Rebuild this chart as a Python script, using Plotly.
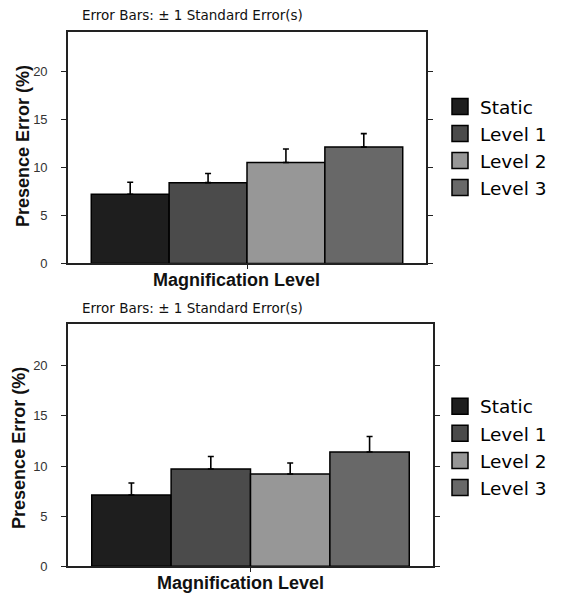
import plotly.graph_objects as go

categories = ["Magnification Level"]
series = ["Static", "Level 1", "Level 2", "Level 3"]
colors = ["#1e1e1e", "#4b4b4b", "#979797", "#686868"]

top_values = [7.2, 8.4, 10.5, 12.1]
top_errors = [1.25, 0.95, 1.4, 1.4]
bottom_values = [7.1, 9.7, 9.2, 11.4]
bottom_errors = [1.2, 1.25, 1.1, 1.55]

y_ticks = [0, 5, 10, 15, 20]
note = "Error Bars: ± 1 Standard Error(s)"
x_title = "Magnification Level"
y_title = "Presence Error (%)"

VW, VH = 566, 603
OFF = 8  # page body margin
W, H = VW - 2 * OFF, VH - 2 * OFF
fig = go.Figure()

panels = [
    dict(vals=top_values, errs=top_errors, xa="x", ya="y", legend="legend"),
    dict(vals=bottom_values, errs=bottom_errors, xa="x2", ya="y2", legend="legend2"),
]
for p in panels:
    for name, color, v, e in zip(series, colors, p["vals"], p["errs"]):
        fig.add_trace(go.Bar(
            x=categories, y=[v], name=name, showlegend=False,
            marker=dict(color=color, line=dict(color="#000000", width=1.5)),
            error_y=dict(type="data", symmetric=False, array=[e], arrayminus=[0],
                         color="#000000", thickness=1.6, width=3),
            xaxis=p["xa"], yaxis=p["ya"],
        ))
    for name, color in zip(series, colors):
        fig.add_trace(go.Scatter(
            x=[None], y=[None], mode="markers", name=name, legend=p["legend"],
            marker=dict(symbol="square", size=20, color=color,
                        line=dict(color="#000000", width=1.5)),
            xaxis=p["xa"], yaxis=p["ya"], hoverinfo="skip",
        ))

def px(x):
    return (x - OFF) / W

def py(y):
    return 1 - (y - OFF) / H

FONT = "Liberation Sans, Arial, sans-serif"
axis_font = dict(family=FONT, size=13, color="#333333")
common_y = dict(tickvals=y_ticks, ticks="outside", ticklen=5, tickwidth=1.2, tickcolor="#222",
                showline=True, linecolor="#222", linewidth=1.6, mirror="ticks",
                showgrid=False, zeroline=False, tickfont=axis_font, ticklabelstandoff=11)
common_x = dict(type="category", range=[-0.5, 0.5], ticks="outside", ticklen=4, tickwidth=1.2,
                tickcolor="#222", showticklabels=False, showline=True, linecolor="#222",
                linewidth=1.6, mirror=True, showgrid=False)
top_tick = dict(type="linear", range=[-0.5, 0.5], tickvals=[0], ticks="inside", ticklen=4,
                tickwidth=1.2, tickcolor="#222", showticklabels=False, showline=False,
                showgrid=False, zeroline=False, side="top")

leg_font = dict(family="DejaVu Sans, sans-serif", size=18.5, color="#000")
fig.update_layout(
    width=W, height=H, margin=dict(l=0, r=0, t=0, b=0),
    paper_bgcolor="white", plot_bgcolor="white",
    barmode="group", bargap=0.13, bargroupgap=0,
    xaxis=dict(domain=[px(68), px(426)], anchor="y", **common_x),
    yaxis=dict(domain=[py(267), py(32)], anchor="x", range=[0, 24.1], **common_y),
    xaxis2=dict(domain=[px(68), px(433)], anchor="y2", **common_x),
    yaxis2=dict(domain=[py(574), py(328)], anchor="x2", range=[0, 24.2], **common_y),
    xaxis3=dict(overlaying="x", anchor="y", **top_tick),
    xaxis4=dict(overlaying="x2", anchor="y2", **top_tick),
    showlegend=True,
    legend=dict(x=px(440), y=py(89), xanchor="left", yanchor="top", font=leg_font,
                bgcolor="rgba(0,0,0,0)", itemwidth=30, tracegroupgap=0),
    legend2=dict(x=px(440), y=py(393), xanchor="left", yanchor="top", font=leg_font,
                 bgcolor="rgba(0,0,0,0)", itemwidth=30, tracegroupgap=0),
)

title_font = dict(family=FONT, size=18, color="#111")
for xt, yt, xy, yy in [(236, 284, 23, 148), (240, 591, 19, 454)]:
    fig.add_annotation(text="<b>%s</b>" % x_title, x=px(xt), y=py(yt), xref="paper", yref="paper",
                       showarrow=False, font=title_font, xanchor="center", yanchor="middle")
    fig.add_annotation(text="<b>%s</b>" % y_title, x=px(xy), y=py(yy), xref="paper", yref="paper",
                       showarrow=False, font=title_font, textangle=-90, xanchor="center", yanchor="middle")

note_font = dict(family="DejaVu Sans, sans-serif", size=13.5, color="#111")
for yn in [15, 312]:
    fig.add_annotation(text=note, x=px(80), y=py(yn), xref="paper", yref="paper",
                       showarrow=False, font=note_font, xanchor="left", yanchor="middle")

fig.write_html("out.html")
